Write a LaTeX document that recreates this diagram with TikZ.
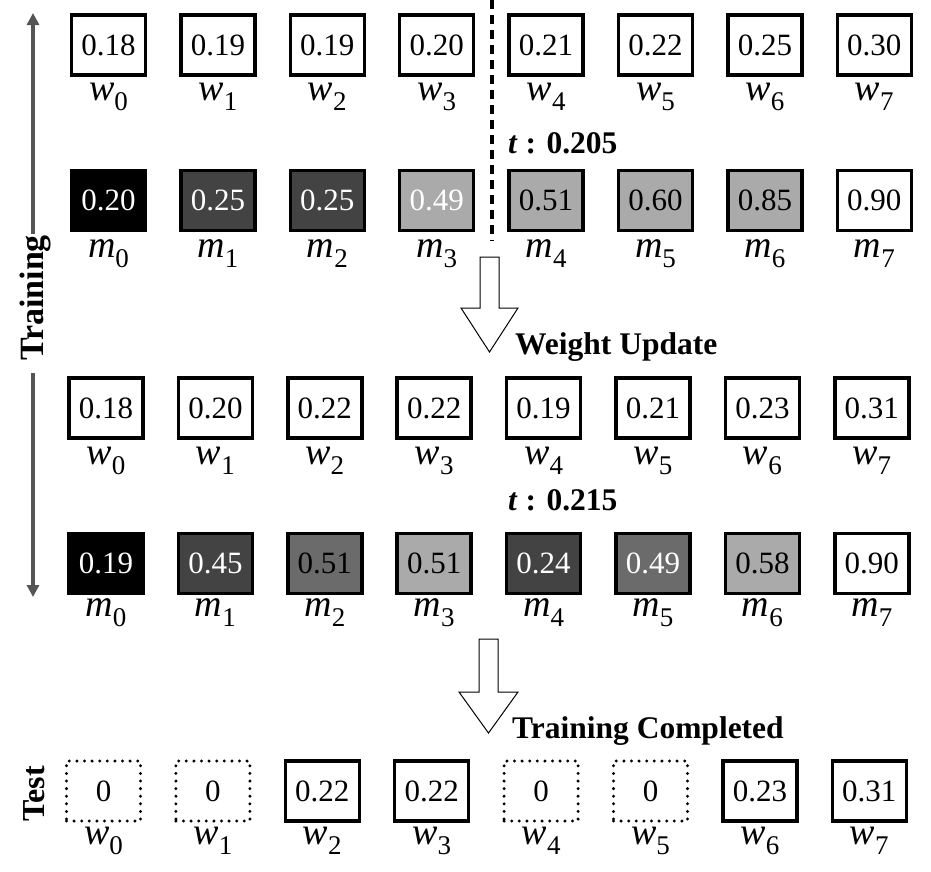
\documentclass[tikz,border=0pt]{standalone}
\usepackage{fontspec}
\setmainfont{Liberation Serif}
\usetikzlibrary{arrows.meta}
\definecolor{dk}{HTML}{434343}
\definecolor{md}{HTML}{6B6B6B}
\definecolor{lt}{HTML}{AAAAAA}
\definecolor{axis}{HTML}{555555}
\newcommand\mylbl[2]{\fontsize{38}{38}\selectfont\textit{#1}\raisebox{-10pt}{\fontsize{27}{27}\selectfont #2}}
\begin{document}
\begin{tikzpicture}[x=1pt,y=-1pt,
  box/.style={draw, line width=3.5pt, minimum width=74pt, minimum height=60pt, inner sep=0pt, font=\fontsize{31}{31}\selectfont},
  tbox/.style={box, line width=3.3pt, dash pattern=on 0pt off 7.6pt, line cap=round},
  lab/.style={anchor=base, inner sep=0pt},
  bold/.style={font=\fontsize{31.5}{31.5}\selectfont\bfseries, inner sep=0pt},
  openarrow/.style={draw, line width=1pt, fill=white},
  axisline/.style={draw=axis, line width=3.3pt, -{Triangle[length=12pt,width=12pt]}}]
\useasboundingbox (0,0) rectangle (931,871);

% Training axis
\coordinate (atop) at (33,13);
\coordinate (amidA) at (33,234);
\coordinate (amidB) at (33,373);
\coordinate (abot) at (33,597);
\draw[axisline] (amidA) -- (atop);
\draw[axisline] (amidB) -- (abot);
\node[bold, rotate=90, font=\fontsize{34}{34}\selectfont\bfseries] (train) at (35,298) {Training};
\node[bold, rotate=90, font=\fontsize{32}{32}\selectfont\bfseries] (test) at (34,794) {Test};

% separator
\coordinate (sepA) at (492,0);
\coordinate (sepB) at (492,241);
\draw[line width=4pt, dash pattern=on 9pt off 6pt] (sepA) -- (sepB);

% Row 1 weights
\foreach \v [count=\i from 0] in {0.18,0.19,0.19,0.20,0.21,0.22,0.25,0.30} {
  \node[box] (wa\i) at ({108.5+109.4*\i},45) {\v};
  \node[lab] (lwa\i) at ({108.5+109.4*\i},100) {\mylbl{w}{\i}};
}
% Row 1 masks
\foreach \v/\f/\t [count=\i from 0] in {0.20/black/white,0.25/dk/white,0.25/dk/white,0.49/lt/white,0.51/lt/black,0.60/lt/black,0.85/lt/black,0.90/white/black} {
  \node[box, fill=\f, text=\t] (ma\i) at ({108.5+109.4*\i},200.5) {\v};
  \node[lab] (lma\i) at ({108.5+109.4*\i},257) {\mylbl{m}{\i}};
}
\node[bold, anchor=base west] (ta) at (508,153) {\textit{t} : 0.205};

% Arrow 1
\draw[openarrow] (480,257) -- (480,308) -- (461,308) -- (489.5,352) -- (518,308) -- (499,308) -- (499,257) -- cycle;
\node[bold, anchor=base west] (wu) at (515,354) {Weight Update};

% Row 2 weights
\foreach \v [count=\i from 0] in {0.18,0.20,0.22,0.22,0.19,0.21,0.23,0.31} {
  \node[box] (wb\i) at ({106+109.4*\i},408) {\v};
  \node[lab] (lwb\i) at ({106+109.4*\i},464) {\mylbl{w}{\i}};
}
\node[bold, anchor=base west] (tb) at (508,510) {\textit{t} : 0.215};
% Row 2 masks
\foreach \v/\f/\t [count=\i from 0] in {0.19/black/white,0.45/dk/white,0.51/md/black,0.51/lt/black,0.24/dk/white,0.49/md/white,0.58/lt/black,0.90/white/black} {
  \node[box, fill=\f, text=\t] (mb\i) at ({106+109.4*\i},563.5) {\v};
  \node[lab] (lmb\i) at ({106+109.4*\i},616) {\mylbl{m}{\i}};
}

% Arrow 2
\draw[openarrow] (479,639) -- (479,692) -- (459,692) -- (488.5,733) -- (518,692) -- (498,692) -- (498,639) -- cycle;
\node[bold, anchor=base west] (tc) at (512,738) {Training Completed};

% Test row
\foreach \v/\s [count=\i from 0] in {0/tbox,0/tbox,0.22/box,0.22/box,0/tbox,0/tbox,0.23/box,0.31/box} {
  \node[\s] (wc\i) at ({103.5+109.4*\i},791) {\v};
  \node[lab] (lwc\i) at ({103.5+109.4*\i},844) {\mylbl{w}{\i}};
}
\end{tikzpicture}
\end{document}
